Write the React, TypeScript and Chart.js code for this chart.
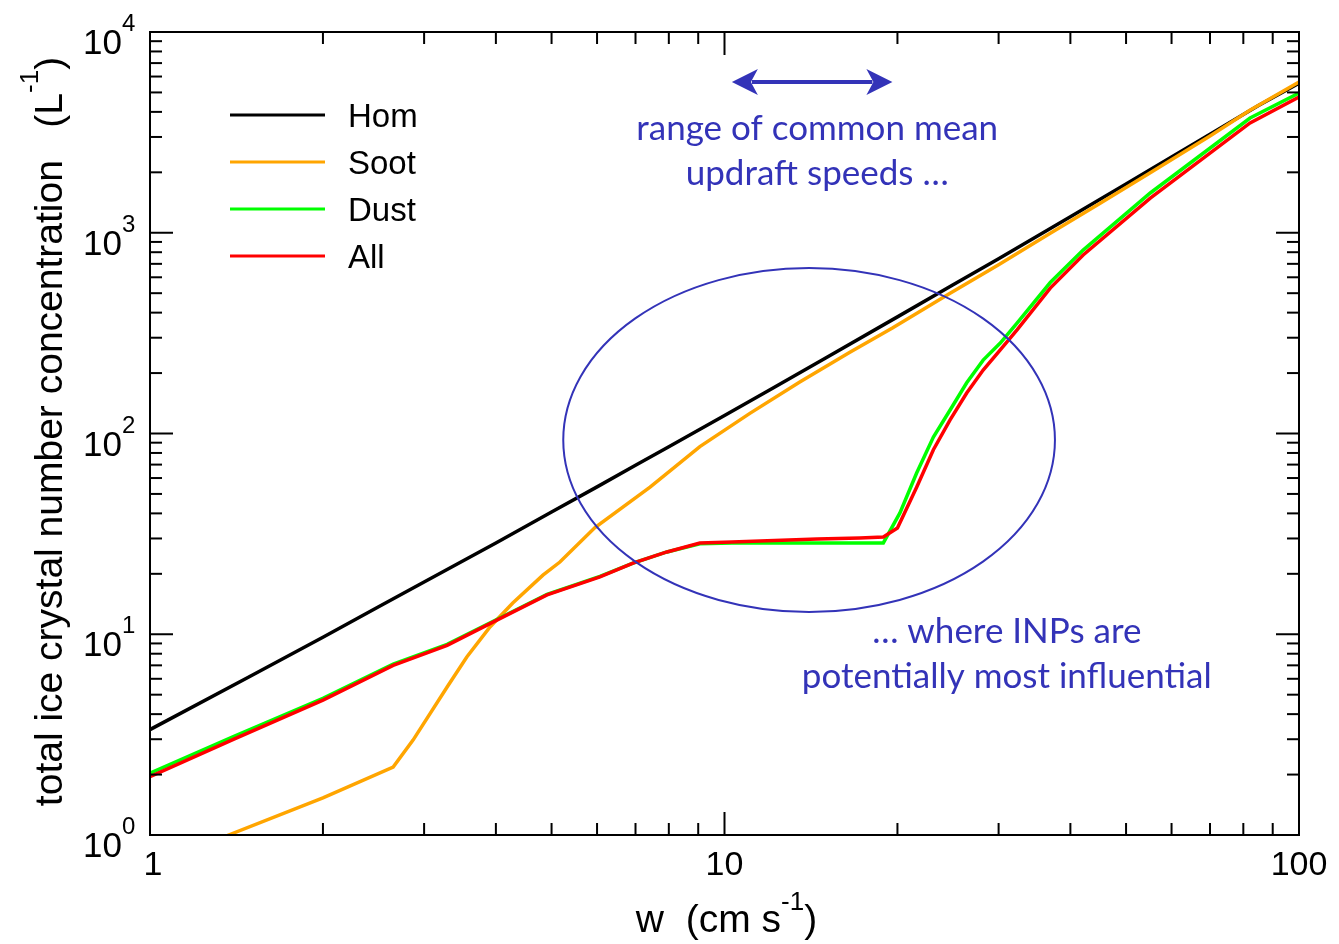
import React, { useEffect, useRef } from 'react';
import { Chart, registerables } from 'chart.js';

Chart.register(...registerables);

// ---------- data ----------
const homW = [1, 1.5, 2, 2.5, 3, 4, 5, 6, 7, 8, 10, 12, 15, 20, 25, 30, 40, 50, 60, 70, 85, 100];
const homN = [3.35, 6.21, 9.67, 13.7, 18.2, 28.5, 40.6, 54.2, 69.4, 85.9, 123, 165, 238, 381, 551, 743, 1202, 1751, 2381, 3093, 4300, 5550];

const sootW = [1, 1.37, 2, 2.65, 2.87, 3.29, 3.56, 3.91, 4.28, 4.83, 5.17, 5.95, 7.42, 9.06, 11.07, 13.5, 16.5, 19.6, 24.7, 30, 36.9, 45, 55, 70, 82, 100];
const sootN = [0.69, 1.0, 1.53, 2.18, 2.97, 5.46, 7.7, 10.9, 14.3, 19.7, 22.9, 34, 54, 86, 126, 180, 253, 335, 499, 693, 993, 1400, 1986, 3034, 4060, 5640];

const dustW = [1, 1.4, 2, 2.65, 3.29, 4.12, 4.91, 6.07, 6.93, 7.94, 9.06, 10.3, 14.5, 18.9, 20.2, 21.6, 23.1, 24.7, 26.4, 28.2, 30.2, 32.3, 36.9, 42.1, 55.1, 82.2, 100];
const dustN = [2.03, 3.1, 4.8, 7.1, 8.9, 12.3, 15.8, 19.4, 22.6, 25.7, 28.2, 28.5, 28.5, 28.5, 40.2, 63.6, 96, 131, 179, 232, 282, 355, 565, 820, 1578, 3730, 4970];

const allW = [1, 1.4, 2, 2.65, 3.29, 4.12, 4.91, 6.07, 6.93, 7.94, 9.06, 10.3, 14.5, 17.2, 18.9, 20.0, 21.6, 23.1, 24.7, 26.4, 28.2, 30.2, 32.3, 36.9, 42.1, 55.1, 82.2, 100];
const allN = [1.95, 3.0, 4.7, 7.0, 8.8, 12.2, 15.7, 19.3, 22.6, 25.7, 28.5, 28.8, 29.8, 30.2, 30.5, 33.8, 54, 83, 117, 159, 207, 261, 328, 530, 775, 1489, 3524, 4745];

const seriesNames = ['Hom', 'Soot', 'Dust', 'All'];
const seriesColors = ['#000000', '#ffa500', '#00ff00', '#ff0000'];

const xMajorTicks = [1, 10, 100];
const xTickLabels = ['1', '10', '100'];
const yMajorTicks = [1, 10, 100, 1000, 10000];
const yTickExponents = ['0', '1', '2', '3', '4'];
const minorMultipliers = [2, 3, 4, 5, 6, 7, 8, 9];

const xTitle = 'w  (cm s';
const yTitle = 'total ice crystal number concentration   (L';
const unitExponent = '-1';

const noteTop = ['range of common mean', 'updraft speeds \u2026'];
const noteBottom = ['\u2026 where INPs are', 'potentially most influential'];
// annotation anchors in data space (w, N)
const arrowFromW = 10.3;
const arrowToW = 19.6;
const arrowN = 5640;
const ellipseW = [5.24, 37.6];
const ellipseN = [12.9, 667];
const noteTopAt = { w: 14.5, n: [2900, 1730] };
const noteBottomAt = { w: 31.0, n: [9.0, 5.4] };

const SANS = '"Liberation Sans", Arial, Helvetica, sans-serif';
const NOTE_FONT = 'Lato, "Open Sans", sans-serif';
const BLUE = '#3333b8';

type Piece = { t: string; size: number; dy: number };

function drawPieces(ctx: CanvasRenderingContext2D, pieces: Piece[], x0: number, y0: number, center: boolean) {
  let total = 0;
  const widths = pieces.map((p) => {
    ctx.font = `${p.size}px ${SANS}`;
    const w = ctx.measureText(p.t).width;
    total += w;
    return w;
  });
  let x = center ? x0 - total / 2 : x0;
  pieces.forEach((p, i) => {
    ctx.font = `${p.size}px ${SANS}`;
    ctx.fillText(p.t, x, y0 + p.dy);
    x += widths[i];
  });
}

const decorPlugin = {
  id: 'decor',
  beforeDraw(chart: any) {
    const ctx = chart.ctx;
    ctx.save();
    ctx.fillStyle = '#ffffff';
    ctx.fillRect(0, 0, chart.width, chart.height);
    ctx.restore();
  },
  afterDraw(chart: any) {
    const ctx: CanvasRenderingContext2D = chart.ctx;
    const a = chart.chartArea;
    const xs = chart.scales.x;
    const ys = chart.scales.y;
    ctx.save();

    // frame
    ctx.strokeStyle = '#000';
    ctx.lineWidth = 2;
    ctx.strokeRect(a.left, a.top, a.right - a.left, a.bottom - a.top);

    const seg = (x1: number, y1: number, x2: number, y2: number) => {
      ctx.beginPath();
      ctx.moveTo(x1, y1);
      ctx.lineTo(x2, y2);
      ctx.stroke();
    };
    const MAJ = 23;
    const MIN = 12;
    const xTick = (v: number, len: number) => {
      const p = xs.getPixelForValue(v);
      seg(p, a.bottom, p, a.bottom - len);
      seg(p, a.top, p, a.top + len);
    };
    const yTick = (v: number, len: number) => {
      const p = ys.getPixelForValue(v);
      seg(a.left, p, a.left + len, p);
      seg(a.right, p, a.right - len, p);
    };
    xMajorTicks.forEach((v, i) => {
      xTick(v, MAJ);
      if (i < xMajorTicks.length - 1) minorMultipliers.forEach((m) => xTick(v * m, MIN));
    });
    yMajorTicks.forEach((v, i) => {
      yTick(v, MAJ);
      if (i < yMajorTicks.length - 1) minorMultipliers.forEach((m) => yTick(v * m, MIN));
    });

    // tick labels
    ctx.fillStyle = '#000';
    ctx.textBaseline = 'alphabetic';
    ctx.textAlign = 'center';
    ctx.font = `34px ${SANS}`;
    xMajorTicks.forEach((v, i) => {
      ctx.fillText(xTickLabels[i], xs.getPixelForValue(v) + (i === 0 ? 3 : 0), a.bottom + 40);
    });
    yMajorTicks.forEach((v, i) => {
      const p = ys.getPixelForValue(v);
      ctx.textAlign = 'right';
      ctx.font = `35px ${SANS}`;
      ctx.fillText('10', a.left - 28, p + 22);
      ctx.textAlign = 'left';
      ctx.font = `24px ${SANS}`;
      ctx.fillText(yTickExponents[i], a.left - 28, p - 1);
    });

    // axis titles
    ctx.textAlign = 'left';
    drawPieces(
      ctx,
      [
        { t: xTitle, size: 39, dy: 0 },
        { t: unitExponent, size: 26, dy: -22 },
        { t: ')', size: 39, dy: 0 },
      ],
      (a.left + a.right) / 2 + 2,
      a.bottom + 97,
      true
    );
    ctx.save();
    ctx.translate(a.left - 88, (a.top + a.bottom) / 2 - 2);
    ctx.rotate(-Math.PI / 2);
    drawPieces(
      ctx,
      [
        { t: yTitle, size: 39, dy: 0 },
        { t: unitExponent, size: 26, dy: -24 },
        { t: ')', size: 39, dy: 0 },
      ],
      0,
      0,
      true
    );
    ctx.restore();

    // legend
    ctx.lineWidth = 3;
    ctx.font = `33px ${SANS}`;
    ctx.textAlign = 'left';
    seriesNames.forEach((name, i) => {
      const yy = a.top + 83 + i * 47;
      ctx.strokeStyle = seriesColors[i];
      seg(a.left + 80, yy, a.left + 175, yy);
      ctx.fillStyle = '#000';
      ctx.fillText(name, a.left + 198, yy + 12);
    });

    // annotations
    ctx.strokeStyle = BLUE;
    ctx.fillStyle = BLUE;
    // double arrow
    const ax1 = xs.getPixelForValue(arrowFromW);
    const ax2 = xs.getPixelForValue(arrowToW);
    const ay = ys.getPixelForValue(arrowN);
    const head = 26;
    const half = 13;
    ctx.lineWidth = 4;
    seg(ax1 + head - 6, ay, ax2 - head + 6, ay);
    ctx.beginPath();
    ctx.moveTo(ax1, ay);
    ctx.lineTo(ax1 + head, ay - half);
    ctx.lineTo(ax1 + head - 7, ay);
    ctx.lineTo(ax1 + head, ay + half);
    ctx.closePath();
    ctx.fill();
    ctx.beginPath();
    ctx.moveTo(ax2, ay);
    ctx.lineTo(ax2 - head, ay - half);
    ctx.lineTo(ax2 - head + 7, ay);
    ctx.lineTo(ax2 - head, ay + half);
    ctx.closePath();
    ctx.fill();

    // ellipse
    const ex1 = xs.getPixelForValue(ellipseW[0]);
    const ex2 = xs.getPixelForValue(ellipseW[1]);
    const ey1 = ys.getPixelForValue(ellipseN[1]);
    const ey2 = ys.getPixelForValue(ellipseN[0]);
    ctx.lineWidth = 2;
    ctx.beginPath();
    ctx.ellipse((ex1 + ex2) / 2, (ey1 + ey2) / 2, (ex2 - ex1) / 2, (ey2 - ey1) / 2, 0, 0, Math.PI * 2);
    ctx.stroke();

    // notes
    ctx.textAlign = 'center';
    ctx.font = `35px ${NOTE_FONT}`;
    noteTop.forEach((t, i) => {
      ctx.fillText(t, xs.getPixelForValue(noteTopAt.w), ys.getPixelForValue(noteTopAt.n[i]));
    });
    noteBottom.forEach((t, i) => {
      ctx.fillText(t, xs.getPixelForValue(noteBottomAt.w), ys.getPixelForValue(noteBottomAt.n[i]));
    });

    ctx.restore();
  },
};

export default function App() {
  const canvasRef = useRef<HTMLCanvasElement | null>(null);

  useEffect(() => {
    const canvas = canvasRef.current;
    if (!canvas) return;
    const pairs = [
      [homW, homN],
      [sootW, sootN],
      [dustW, dustN],
      [allW, allN],
    ];
    const datasets = seriesNames.map((name, i) => ({
      label: name,
      data: pairs[i][0].map((w, j) => ({ x: w, y: pairs[i][1][j] })),
      borderColor: seriesColors[i],
      backgroundColor: seriesColors[i],
      borderWidth: 3.5,
      pointRadius: 0,
      tension: 0,
      fill: false,
      clip: 0,
      order: seriesNames.length - i,
    }));
    const chart = new Chart(canvas, {
      type: 'line',
      data: { datasets },
      options: {
        animation: false,
        responsive: false,
        devicePixelRatio: 1,
        events: [],
        layout: { padding: { left: 150, right: 40, top: 32, bottom: 109 } },
        plugins: { legend: { display: false }, tooltip: { enabled: false }, title: { display: false } },
        scales: {
          x: { type: 'logarithmic', min: 1, max: 100, display: false },
          y: { type: 'logarithmic', min: 1, max: 10000, display: false },
        },
      },
      plugins: [decorPlugin],
    } as any);
    return () => chart.destroy();
  }, []);

  return (
    <div style={{ position: 'fixed', left: 0, top: 0, width: 1339, height: 944, background: '#fff' }}>
      <canvas ref={canvasRef} width={1339} height={944} style={{ width: 1339, height: 944, display: 'block' }} />
    </div>
  );
}
